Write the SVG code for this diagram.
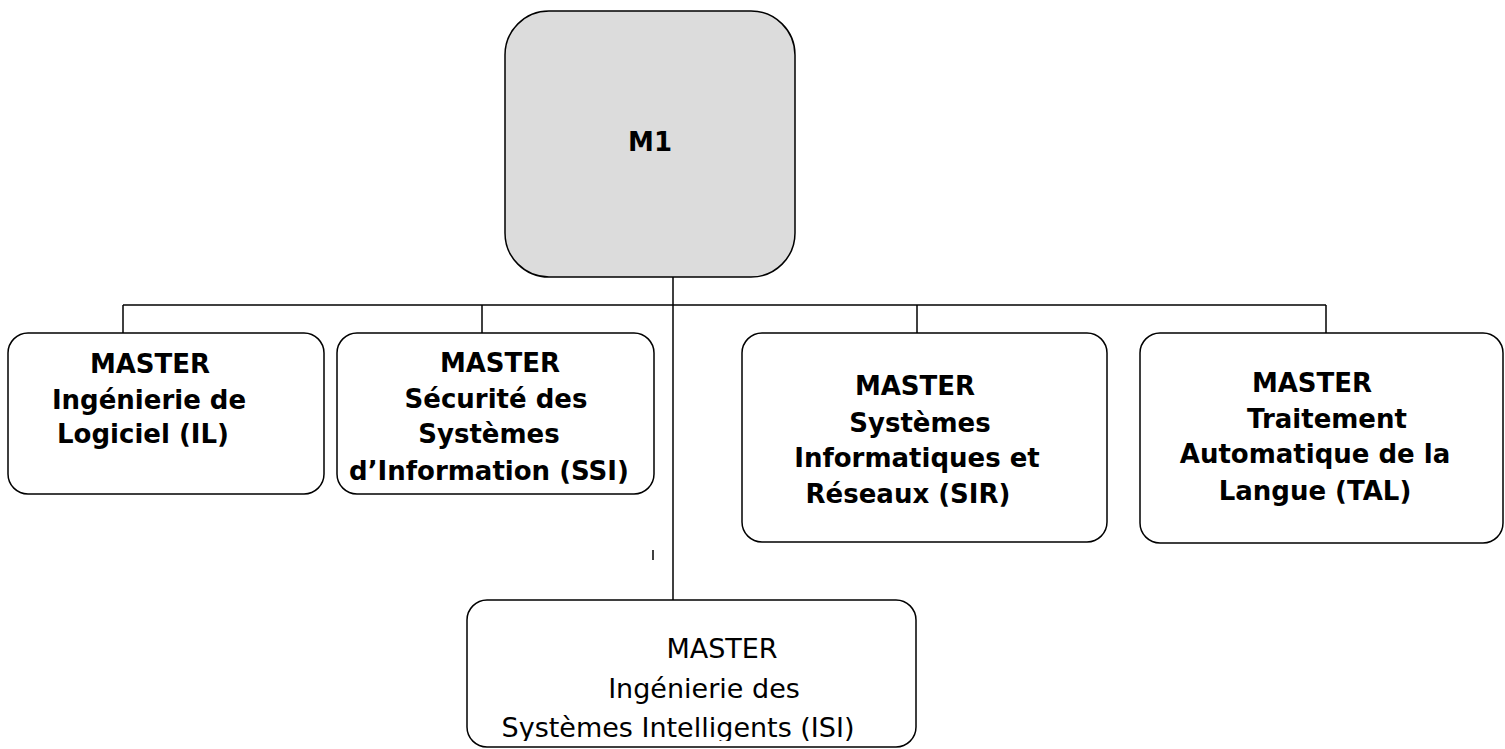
<svg xmlns="http://www.w3.org/2000/svg" width="1505" height="749" viewBox="0 0 1505 749">
<style>
.box{fill:#fff;stroke:#000;stroke-width:1.5}
.root{fill:#dcdcdc;stroke:#000;stroke-width:1.5}
.ln{fill:none;stroke:#000;stroke-width:1.5}
.b{font-family:"DejaVu Sans","Liberation Sans",sans-serif;font-weight:bold;font-size:26px;fill:#000;text-anchor:middle}
.r{font-family:"DejaVu Sans","Liberation Sans",sans-serif;font-size:27px;fill:#000;text-anchor:middle}
</style>
<defs>
<clipPath id="isiclip"><rect x="460" y="590" width="470" height="151"/></clipPath>
</defs>
<rect width="1505" height="749" fill="#fff"/>
<g id="connectors">
<path class="ln" d="M673 274V600"/>
<path class="ln" d="M123 305H1326"/>
<path class="ln" d="M123 305V333"/>
<path class="ln" d="M482 305V333"/>
<path class="ln" d="M917 305V333"/>
<path class="ln" d="M1326 305V333"/>
<path class="ln" d="M653 550V560"/>
</g>
<g id="m1">
<rect class="root" x="505" y="11" width="290" height="266" rx="44"/>
<text class="b" x="650" y="151">M1</text>
</g>
<g id="il">
<rect class="box" x="8" y="333" width="316" height="161" rx="20"/>
<text class="b" x="150" y="373">MASTER</text>
<text class="b" x="149" y="409">Ingénierie de</text>
<text class="b" x="143" y="443">Logiciel (IL)</text>
</g>
<g id="ssi">
<rect class="box" x="337" y="333" width="317" height="161" rx="20"/>
<text class="b" x="500" y="372">MASTER</text>
<text class="b" x="496" y="408">Sécurité des</text>
<text class="b" x="489" y="443">Systèmes</text>
<text class="b" x="489" y="480">d’Information (SSI)</text>
</g>
<g id="sir">
<rect class="box" x="742" y="333" width="365" height="209" rx="20"/>
<text class="b" x="915" y="395">MASTER</text>
<text class="b" x="920" y="432">Systèmes</text>
<text class="b" x="917" y="467">Informatiques et</text>
<text class="b" x="908" y="503">Réseaux (SIR)</text>
</g>
<g id="tal">
<rect class="box" x="1140" y="333" width="363" height="210" rx="20"/>
<text class="b" x="1312" y="392">MASTER</text>
<text class="b" x="1327" y="428">Traitement</text>
<text class="b" x="1315" y="463">Automatique de la</text>
<text class="b" x="1315" y="500">Langue (TAL)</text>
</g>
<g id="isi">
<rect class="box" x="467" y="600" width="449" height="147" rx="20"/>
<g clip-path="url(#isiclip)">
<text class="r" x="722" y="658">MASTER</text>
<text class="r" x="704" y="698">Ingénierie des</text>
<text class="r" x="678" y="737">Systèmes Intelligents (ISI)</text>
</g>
</g>
</svg>
